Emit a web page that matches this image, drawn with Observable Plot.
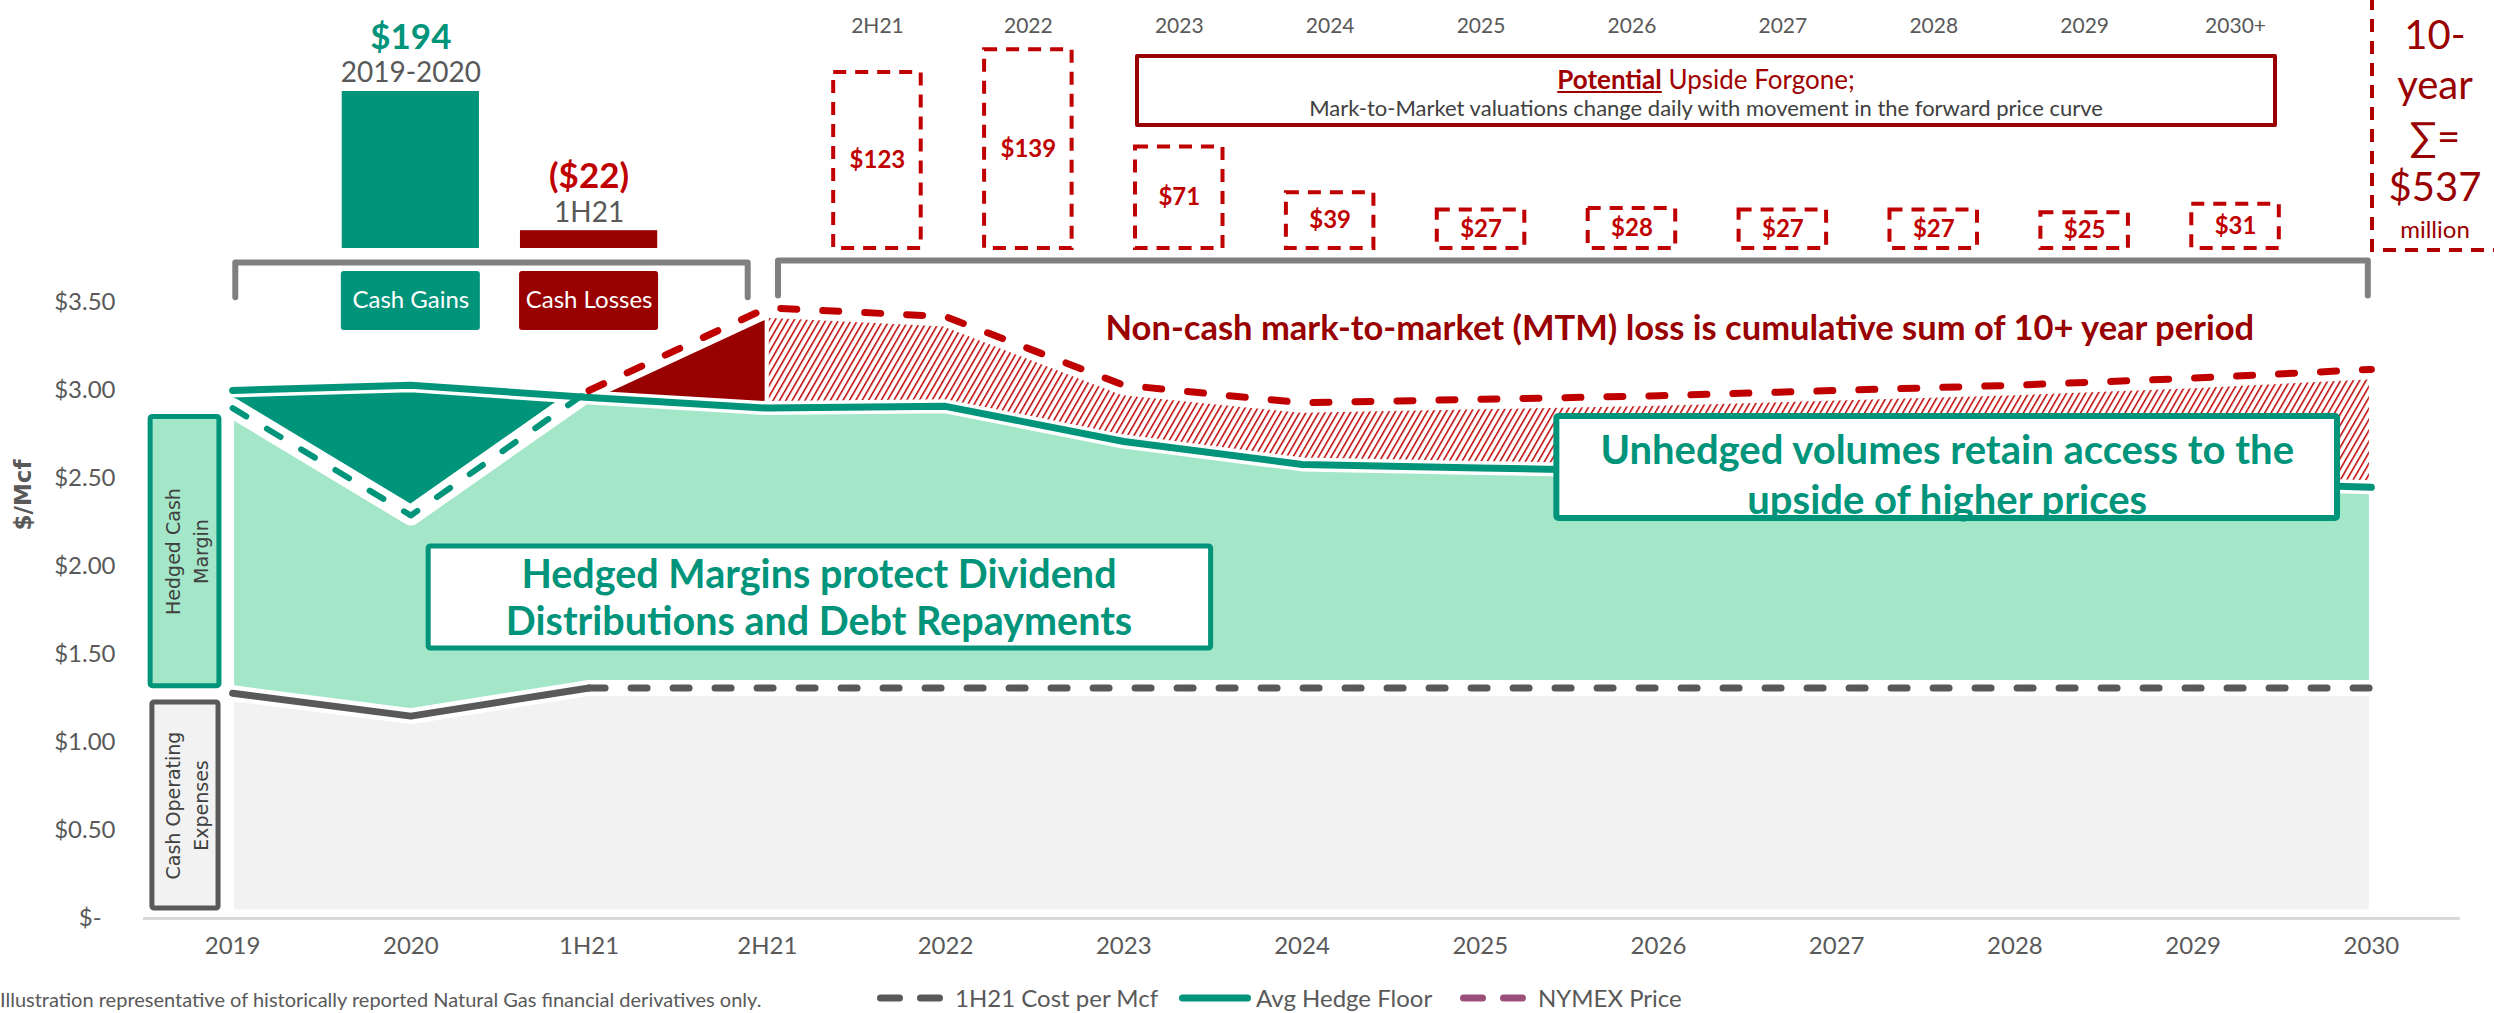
<!DOCTYPE html>
<html>
<head>
<meta charset="utf-8">
<script src="https://cdn.jsdelivr.net/npm/d3@7"></script>
<script src="https://cdn.jsdelivr.net/npm/@observablehq/plot@0.6"></script>
<style>
  html, body { margin:0; padding:0; background:#fff; overflow:hidden; }
  #wrap { position:relative; width:2494px; height:1013px; overflow:hidden; background:#fff;
          font-family:"Liberation Sans Narrow","Lato",sans-serif; color:#595959; }
  .layer { position:absolute; left:0; top:0; overflow:visible; }
</style>
</head>
<body>
<div id="wrap"></div>
<script>
// ---------------- data ----------------
const categories = ["2019","2020","1H21","2H21","2022","2023","2024","2025","2026","2027","2028","2029","2030"];
const costPerMcf = [1.28,1.15,1.31,1.31,1.31,1.31,1.31,1.31,1.31,1.31,1.31,1.31,1.31];
const hedgeFloor = [3.00,3.03,2.96,2.90,2.91,2.71,2.58,2.56,2.54,2.52,2.50,2.48,2.45];
const nymexPrice = [2.90,2.29,3.00,3.47,3.42,3.03,2.93,2.95,2.97,3.00,3.03,3.07,3.12];
const yTicks = [0,0.5,1,1.5,2,2.5,3,3.5];

const cashPeriods = ["2019-2020","1H21"];
const cashAnchors = ["2020","1H21"];
const cashValues = [194,-22];
const cashLabels = ["$194","($22)"];

const mtmPeriods = ["2H21","2022","2023","2024","2025","2026","2027","2028","2029","2030+"];
const mtmValues = [123,139,71,39,27,28,27,27,25,31];

const legendLabels = ["1H21 Cost per Mcf","Avg Hedge Floor","NYMEX Price"];

// ---------------- styling ----------------
const W = 2494, H = 985;
const FONT = '"Liberation Sans Narrow","Lato",sans-serif';
const BOXFONT = '"DejaVu Sans",Verdana,sans-serif';
const TEAL="#00947b", MINT="#a4e6c8", DKRED="#990000", RED="#c00000", GRAY="#595959", LTGRAY="#f2f2f2";

const rows = categories.map((c,i)=>({i, cat:c, cost:costPerMcf[i], hedge:hedgeFloor[i], nymex:nymexPrice[i]}));
const iOf = c => categories.indexOf(c);
const i1H21 = iOf("1H21"), i2H21 = iOf("2H21");
const realized = rows.filter(d=>d.i<=i1H21);
const forward = rows.filter(d=>d.i>=i1H21);
const xDomain=[-0.5, categories.length-0.5];
const xRange=[143, 2460];

// annotation layout (in chart units)
const noteBoxes = [
  {x1:-0.46, x2:-0.074, y1:1.32, y2:2.85, fill:MINT, stroke:TEAL, sw:5},
  {x1:-0.45, x2:-0.079, y1:0.057, y2:1.227, fill:LTGRAY, stroke:GRAY, sw:5},
  {x1:1.10, x2:5.49, y1:1.534, y2:2.114, fill:"#fff", stroke:TEAL, sw:5},
  {x1:7.43, x2:11.81, y1:2.273, y2:2.852, fill:"#fff", stroke:TEAL, sw:6}
];
const cashKeys = [
  {t:"Cash Gains", i:iOf("2020"), fill:TEAL},
  {t:"Cash Losses", i:iOf("1H21"), fill:DKRED}
];
const brackets = [
  {g:"a",x:0.015,y:3.53},{g:"a",x:0.015,y:3.727},{g:"a",x:2.89,y:3.727},{g:"a",x:2.89,y:3.53},
  {g:"b",x:3.06,y:3.54},{g:"b",x:3.06,y:3.738},{g:"b",x:11.98,y:3.738},{g:"b",x:11.98,y:3.54}
];

const wrap = document.getElementById("wrap");

// ---------------- main chart ----------------
const main = Plot.plot({
  width: W, height: H,
  marginLeft: xRange[0], marginRight: W - xRange[1], marginTop: 302, marginBottom: H - 918,
  x: {domain: xDomain, axis: null},
  y: {domain: [0, 3.5], axis: null},
  style: {fontFamily: FONT, fontSize: "24px", color: GRAY, background: "transparent", overflow: "visible"},
  marks: [
    Plot.areaY(rows, {x:"i", y1:0, y2:"cost", fill:LTGRAY, stroke:"#fff", strokeWidth:4}),
    Plot.areaY(rows, {x:"i", y1:"cost", y2:d=>Math.min(d.hedge,d.nymex), fill:MINT, stroke:"#fff", strokeWidth:4}),
    Plot.areaY(realized, {x:"i", y1:d=>Math.min(d.hedge,d.nymex), y2:"hedge", fill:TEAL, stroke:"#fff", strokeWidth:3}),
    Plot.areaY(rows.filter(d=>d.i>=i1H21 && d.i<=i2H21), {x:"i", y1:"hedge", y2:"nymex", fill:DKRED, stroke:"#fff", strokeWidth:4}),
    Plot.areaY(rows.filter(d=>d.i>=i2H21), {x:"i", y1:"hedge", y2:"nymex", fill:"url(#mtmHatch)", stroke:"#fff", strokeWidth:4}),
    Plot.ruleY([0], {stroke:"#fff", strokeWidth:18}),
    Plot.ruleY([0], {stroke:"#d9d9d9", strokeWidth:3}),
    // white halos
    Plot.line(rows, {x:"i", y:"cost", stroke:"#fff", strokeWidth:16}),
    Plot.line(rows, {x:"i", y:"hedge", stroke:"#fff", strokeWidth:14}),
    Plot.line(rows, {x:"i", y:"nymex", stroke:"#fff", strokeWidth:20}),
    // lines
    Plot.line(realized, {x:"i", y:"cost", stroke:GRAY, strokeWidth:7}),
    Plot.line(forward, {x:"i", y:"cost", stroke:GRAY, strokeWidth:7, strokeDasharray:"16,26", strokeLinecap:"round"}),
    Plot.line(rows, {x:"i", y:"hedge", stroke:TEAL, strokeWidth:7}),
    Plot.line(realized, {x:"i", y:"nymex", stroke:TEAL, strokeWidth:6, strokeDasharray:"16,24", strokeLinecap:"round"}),
    Plot.line(forward, {x:"i", y:"nymex", stroke:RED, strokeWidth:7, strokeDasharray:"16,26", strokeLinecap:"round"}),
    // brackets
    Plot.line(brackets, {x:"x", y:"y", z:"g", stroke:"#808080", strokeWidth:6, strokeLinejoin:"round"}),
    // cash key boxes
    Plot.rect(cashKeys, {x1:d=>d.i-0.39, x2:d=>d.i+0.39, y1:3.341, y2:3.676, fill:"fill", rx:3}),
    Plot.text(cashKeys, {x:"i", y:3.51, text:"t", fill:"#fff", fontSize:24}),
    // note boxes
    Plot.rect(noteBoxes, {x1:"x1", x2:"x2", y1:"y1", y2:"y2", fill:"fill", stroke:"stroke", strokeWidth:"sw", rx:2}),
    Plot.text([{t:"Hedged Cash\nMargin", x:-0.267, y:2.085},{t:"Cash Operating\nExpenses", x:-0.265, y:0.642}],
      {x:"x", y:"y", text:"t", rotate:-90, fontSize:19, lineHeight:1.45, fill:"#404040", fontFamily:BOXFONT}),
    Plot.text([{t:"Hedged Margins protect Dividend\nDistributions and Debt Repayments", x:3.29, y:1.83}],
      {x:"x", y:"y", text:"t", fontSize:39.5, fontWeight:"bold", lineHeight:1.19, fill:TEAL}),
    Plot.text([{t:"Unhedged volumes retain access to the\nupside of higher prices", x:9.62, y:2.534}],
      {x:"x", y:"y", text:"t", fontSize:40, fontWeight:"bold", lineHeight:1.25, fill:TEAL}),
    Plot.text([{t:"Non-cash mark-to-market (MTM) loss is cumulative sum of 10+ year period", x:8.12, y:3.352}],
      {x:"x", y:"y", text:"t", fontSize:34.5, fontWeight:"bold", fill:DKRED}),
    Plot.text([{t:"$/Mcf", y:2.205}], {frameAnchor:"left", dx:-120, y:"y", text:"t", rotate:-90, fontSize:23, fontWeight:"bold", fill:GRAY, fontFamily:BOXFONT}),
    // axes
    Plot.axisX({ticks: rows.map(d=>d.i), tickFormat: i=>categories[i], tickSize:0, tickPadding:18, fontSize:24}),
    Plot.text(yTicks, {frameAnchor:"left", y:d=>d, dx:-28, textAnchor:"end", text:d=> d===0 ? "$-\u2007" : "$"+d.toFixed(2), fontSize:24, fill:GRAY})
  ]
});
main.classList.add("layer");
const defs = d3.select(main).insert("defs", ":first-child");
const pat = defs.append("pattern").attr("id","mtmHatch").attr("patternUnits","userSpaceOnUse")
  .attr("width",5.5).attr("height",5.5).attr("patternTransform","rotate(30)");
pat.append("rect").attr("width",5.5).attr("height",5.5).attr("fill","#fff");
pat.append("rect").attr("width",1.5).attr("height",5.5).attr("fill",RED);
wrap.appendChild(main);

// ---------------- cash gains / losses bars ----------------
const cashRows = cashPeriods.map((p,k)=>({period:p, value:cashValues[k], label:cashLabels[k], i:iOf(cashAnchors[k])}));
const cashPlot = Plot.plot({
  width: W, height: 260, margin: 0,
  x: {domain: xDomain, range: xRange, axis: null},
  y: {domain: [0, 194], range: [248, 91], axis: null},
  color: {type: "identity"},
  style: {fontFamily: FONT, background: "transparent", overflow: "visible"},
  marks: [
    Plot.rect(cashRows, {x1:d=>d.i-0.385, x2:d=>d.i+0.385, y1:0, y2:d=>Math.abs(d.value), fill:d=>d.value>=0?TEAL:DKRED}),
    Plot.text(cashRows, {x:"i", y:d=>Math.abs(d.value), text:"period", dy:-18, fontSize:28, fill:GRAY}),
    Plot.text(cashRows, {x:"i", y:d=>Math.abs(d.value), text:"label", dy:-54, fontSize:35, fontWeight:"bold", fill:d=>d.value>=0?TEAL:RED})
  ]
});
cashPlot.classList.add("layer");
wrap.appendChild(cashPlot);

// ---------------- MTM boxes ----------------
const mtmRows = mtmPeriods.map((p,k)=>({period:p, value:mtmValues[k], i:k}));
const mtmPlot = Plot.plot({
  width: W, height: 260, margin: 0,
  x: {domain: [-0.5, mtmPeriods.length-0.5], range: [801.5, 2310.5], axis: null},
  y: {domain: [0, 139], range: [248, 248-139*1.43], axis: null},
  style: {fontFamily: FONT, background: "transparent", overflow: "visible"},
  marks: [
    Plot.rect(mtmRows, {x1:d=>d.i-0.29, x2:d=>d.i+0.29, y1:0, y2:"value", fill:"none", stroke:RED, strokeWidth:4, strokeDasharray:"13,9"}),
    Plot.text(mtmRows, {x:"i", y:d=>d.value/2, text:d=>"$"+d.value, fill:RED, fontWeight:"bold", fontSize:24}),
    Plot.text(mtmRows, {x:"i", frameAnchor:"top", dy:18, text:"period", fill:GRAY, fontSize:21})
  ]
});
mtmPlot.classList.add("layer");
wrap.appendChild(mtmPlot);

// ---------------- HTML annotations ----------------
const total = d3.sum(mtmValues);
const pot = document.createElement("div");
pot.style.cssText = "position:absolute;left:1135px;top:54px;width:1142px;height:73px;box-sizing:border-box;border:4px solid #990000;border-radius:2px;text-align:center;";
pot.innerHTML = '<div style="position:absolute;left:0;right:0;top:6px;line-height:30px;font-size:26px;color:#a00000;"><span style="font-weight:bold;text-decoration:underline;">Potential</span> Upside Forgone;</div>'
  + '<div style="position:absolute;left:0;right:0;top:38px;line-height:24px;font-size:22px;color:#404040;">Mark-to-Market valuations change daily with movement in the forward price curve</div>';
wrap.appendChild(pot);

const sumSvg = d3.select(wrap).append("svg").attr("class","layer").style("left","2370px").style("top","-12px")
  .attr("width",150).attr("height",266);
sumSvg.append("rect").attr("x",2).attr("y",2).attr("width",146).attr("height",260)
  .attr("fill","none").attr("stroke","#b00000").attr("stroke-width",4).attr("stroke-dasharray","13,9");
const sumLines = [["10-",47,40],["year",97,40],["\u2211=",149,40],["$"+total,199,40],["million",242,24]];
sumSvg.selectAll("text.s").data(sumLines).join("text").attr("class","s")
  .attr("x",65).attr("y",d=>d[1]).attr("dy","0.35em").attr("text-anchor","middle")
  .attr("font-size",d=>d[2]).attr("fill","#990000").attr("font-family",FONT).text(d=>d[0]);

// legend
const legendItems = [
  {label:legendLabels[0], color:GRAY, dash:"19,21", left:877, w:66},
  {label:legendLabels[1], color:TEAL, dash:null, left:1179, w:72},
  {label:legendLabels[2], color:"#9b4f7b", dash:"19,21", left:1460, w:66}
];
legendItems.forEach(it=>{
  const d = document.createElement("div");
  d.style.cssText = `position:absolute;left:${it.left}px;top:984px;height:28px;line-height:28px;display:flex;align-items:center;font-size:24px;color:${GRAY};white-space:nowrap;`;
  d.innerHTML = `<svg width="${it.w}" height="14" style="margin-right:${it.dash?12:5}px"><line x1="3.5" y1="7" x2="${it.w-3.5}" y2="7" stroke="${it.color}" stroke-width="7" stroke-linecap="round" ${it.dash?`stroke-dasharray="${it.dash}"`:""}/></svg><span>${it.label}</span>`;
  wrap.appendChild(d);
});

// footnote
const fn = document.createElement("div");
fn.style.cssText = "position:absolute;left:0px;top:987px;font-size:20px;line-height:24px;color:#595959;white-space:nowrap;";
fn.textContent = "Illustration representative of historically reported Natural Gas financial derivatives only.";
wrap.appendChild(fn);
</script>
</body>
</html>
